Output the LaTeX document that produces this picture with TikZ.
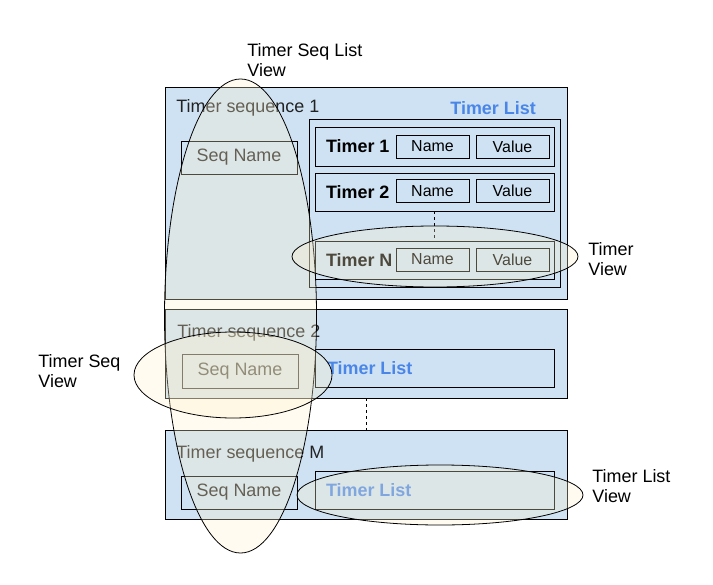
\documentclass[tikz,border=0pt]{standalone}
\usepackage{fontspec}
\setmainfont{Liberation Sans}
\usetikzlibrary{shapes.geometric}
\definecolor{boxfill}{HTML}{CFE2F3}
\definecolor{listblue}{HTML}{4A86E8}
\definecolor{cream}{HTML}{FFF2CC}
\definecolor{ink}{HTML}{222222}
\tikzset{
	seqbox/.style={rectangle, draw, fill=boxfill, inner sep=0pt},
	fieldbox/.style={rectangle, draw, inner sep=0pt, minimum width=73bp, minimum height=23bp, font=\fontsize{16}{18}\selectfont},
	rowbox/.style={rectangle, draw, inner sep=0pt, minimum width=239bp, minimum height=38bp},
	view/.style={ellipse, draw, fill=cream, fill opacity=0.3, inner sep=0pt},
	lbl/.style={inner sep=0pt, text=ink, font=\fontsize{18}{20}\selectfont},
	viewlbl/.style={lbl, anchor=north west, align=left, text=black}
}
\begin{document}
\begin{tikzpicture}[x=1bp, y=-1bp, line width=0.8pt]
	\useasboundingbox (0,0) rectangle (713,585);
	% timer sequences
	\node (seq1) at (366,193) [seqbox, minimum width=402bp, minimum height=212bp] {};
	\node (seq2) at (366,353.5) [seqbox, minimum width=402bp, minimum height=89bp] {};
	\node (seqM) at (366,474.5) [seqbox, minimum width=402bp, minimum height=89bp] {};
	\node at (176,113) [lbl, anchor=base west] {Timer sequence 1};
	\node at (177,337) [lbl, anchor=base west] {Timer sequence 2};
	\node at (176,458) [lbl, anchor=base west] {Timer sequence M};
	\node (name1) at (239,157.5) [seqbox, minimum width=116bp, minimum height=33bp, lbl] {Seq Name};
	\node (name2) at (240,371) [seqbox, minimum width=116bp, minimum height=34bp, lbl] {Seq Name};
	\node (nameM) at (239,492.5) [seqbox, minimum width=116bp, minimum height=33bp, lbl] {Seq Name};
	% timer list of sequence 1
	\node at (450,115) [lbl, anchor=base west, text=listblue, font=\fontsize{18}{20}\selectfont\bfseries] {Timer List};
	\node (list1) at (434.5,203) [rectangle, draw, inner sep=0pt, minimum width=251bp, minimum height=168bp] {};
		\node (t1) at (434.5,146.5) [rowbox, minimum height=39bp] {};
			\node at ([xshift=11bp]t1.west) [lbl, anchor=west, text=black, font=\fontsize{18}{20}\selectfont\bfseries] {Timer 1};
			\node (t1name) at (432.5,146.5) [fieldbox] {Name};
			\node (t1value) at (512.5,146.5) [fieldbox] {Value};
		\node (t2) at (434.5,192) [rowbox] {};
			\node at ([xshift=11bp]t2.west) [lbl, anchor=west, text=black, font=\fontsize{18}{20}\selectfont\bfseries] {Timer 2};
			\node (t2name) at (432.5,191) [fieldbox] {Name};
			\node (t2value) at (512.5,191) [fieldbox] {Value};
		\node (tN) at (434.5,260) [rowbox] {};
			\node at ([xshift=11bp]tN.west) [lbl, anchor=west, text=black, font=\fontsize{18}{20}\selectfont\bfseries] {Timer N};
			\node (tNname) at (432.5,259.5) [fieldbox] {Name};
			\node (tNvalue) at (512.5,259.5) [fieldbox] {Value};
	\draw[dashed, line width=0.6pt] (t2.south) -- (tN.north);
	% timer lists of sequences 2 and M
	\node (list2) at (434.5,368) [rowbox] {};
		\node at ([xshift=12bp]list2.west) [lbl, anchor=west, text=listblue, font=\fontsize{18}{20}\selectfont\bfseries] {Timer List};
	\node (listM) at (434.5,490) [rowbox] {};
		\node at ([xshift=11bp]listM.west) [lbl, anchor=west, text=listblue, font=\fontsize{18}{20}\selectfont\bfseries] {Timer List};
	\draw[dashed, line width=0.6pt] (seq2.south) -- (seqM.north);
	% views
	\node (seqlistview) at (240.5,316) [view, minimum width=152bp, minimum height=474bp] {};
	\node (timerview) at (435,256.5) [view, minimum width=286bp, minimum height=61bp] {};
	\node (seqview) at (233,375) [view, minimum width=198bp, minimum height=86bp] {};
	\node (listview) at (440,495) [view, minimum width=286bp, minimum height=60bp] {};
	\node at (247,43) [viewlbl] {Timer Seq List\\View};
	\node at (588,242) [viewlbl] {Timer\\View};
	\node at (38,354) [viewlbl] {Timer Seq\\View};
	\node at (592,469) [viewlbl] {Timer List\\View};
\end{tikzpicture}
\end{document}
